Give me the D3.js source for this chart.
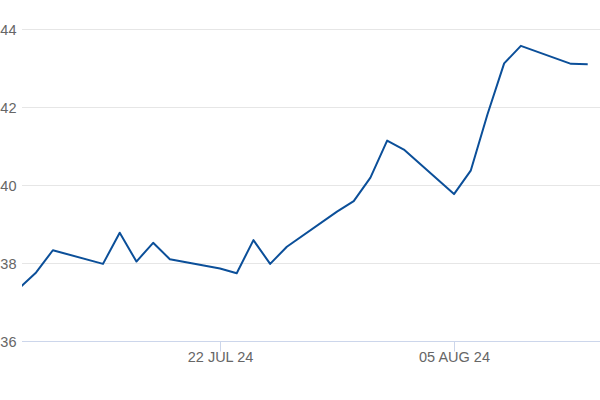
<!DOCTYPE html>
<html>
<head>
<meta charset="utf-8">
<script src="https://cdn.jsdelivr.net/npm/d3@7"></script>
<style>
  body { margin: 0; background: #fff; }
  svg { display: block; font-family: "Liberation Sans", Arial, sans-serif; }
</style>
</head>
<body>
<svg width="600" height="400"></svg>
<script>
// trading days and closing values
var dates = [
	"2024-07-10", "2024-07-11", "2024-07-12",
	"2024-07-15", "2024-07-16", "2024-07-17", "2024-07-18", "2024-07-19",
	"2024-07-22", "2024-07-23", "2024-07-24", "2024-07-25", "2024-07-26",
	"2024-07-29", "2024-07-30", "2024-07-31", "2024-08-01", "2024-08-02",
	"2024-08-05", "2024-08-06", "2024-08-07", "2024-08-08", "2024-08-09",
	"2024-08-12", "2024-08-13"
];
var values = [
	37.37, 37.77, 38.34,
	37.99, 38.79, 38.05, 38.53, 38.11,
	37.87, 37.75, 38.60, 37.99, 38.43,
	39.33, 39.60, 40.20, 41.15, 40.92,
	39.78, 40.38, 41.82, 43.13, 43.58,
	43.12, 43.11
];
var yTicks = [36, 38, 40, 42, 44];
var xTicks = ["2024-07-22", "2024-08-05"];

var parse = d3.utcParse("%Y-%m-%d");
var fmt = d3.utcFormat("%d %b %y");
var data = dates.map(function(d, i) {
	return { date: parse(d), value: values[i] };
});

var svg = d3.select("svg"),
	plotLeft = 22,
	plotRight = 600,
	plotTop = 29.5,
	plotBottom = 341.5;

// 22 Jul -> 220, 05 Aug -> 454
var x = d3.scaleUtc()
	.domain([parse("2024-07-22"), parse("2024-08-05")])
	.range([220, 454]);
var y = d3.scaleLinear().domain([36, 44]).range([plotBottom, plotTop]);

svg.append("defs")
	.append("clipPath")
	.attr("id", "plot")
	.append("rect")
	.attr("x", plotLeft)
	.attr("y", 0)
	.attr("width", plotRight - plotLeft)
	.attr("height", 400);

// grid
svg.append("g")
	.selectAll("line")
	.data(yTicks.filter(function(d) { return d !== 36; }))
	.enter()
	.append("line")
	.attr("x1", plotLeft)
	.attr("x2", plotRight)
	.attr("y1", function(d) { return Math.floor(y(d)) + 0.5; })
	.attr("y2", function(d) { return Math.floor(y(d)) + 0.5; })
	.attr("stroke", "#e6e6e6")
	.attr("stroke-width", 1);

// y labels (cut at the left edge as in the original)
svg.append("g")
	.selectAll("text")
	.data(yTicks)
	.enter()
	.append("text")
	.attr("x", 16.5)
	.attr("y", function(d) { return y(d) + 5; })
	.attr("text-anchor", "end")
	.attr("font-size", 14.5)
	.attr("fill", "#666")
	.text(function(d) { return d; });

// x axis
var xAxis = d3.axisBottom(x)
	.tickValues(xTicks.map(parse))
	.tickFormat(function(d) { return fmt(d).toUpperCase(); })
	.tickSize(10)
	.tickPadding(0);

var gx = svg.append("g")
	.attr("transform", "translate(0," + (Math.floor(plotBottom) + 0.5) + ")")
	.call(xAxis);
gx.select(".domain").remove();
gx.insert("line", ":first-child")
	.attr("x1", plotLeft)
	.attr("x2", plotRight)
	.attr("stroke", "#ccd6eb");
gx.selectAll(".tick line").attr("stroke", "#ccd6eb");
gx.selectAll(".tick text")
	.attr("font-size", 14.5)
	.attr("font-family", "Liberation Sans, Arial, sans-serif")
	.attr("fill", "#666");

// price line
var line = d3.line()
	.x(function(d) { return x(d.date); })
	.y(function(d) { return y(d.value); });

svg.append("path")
	.datum(data)
	.attr("clip-path", "url(#plot)")
	.attr("d", line)
	.attr("fill", "none")
	.attr("stroke", "#0b4f99")
	.attr("stroke-width", 2)
	.attr("stroke-linejoin", "round");
</script>
</body>
</html>
